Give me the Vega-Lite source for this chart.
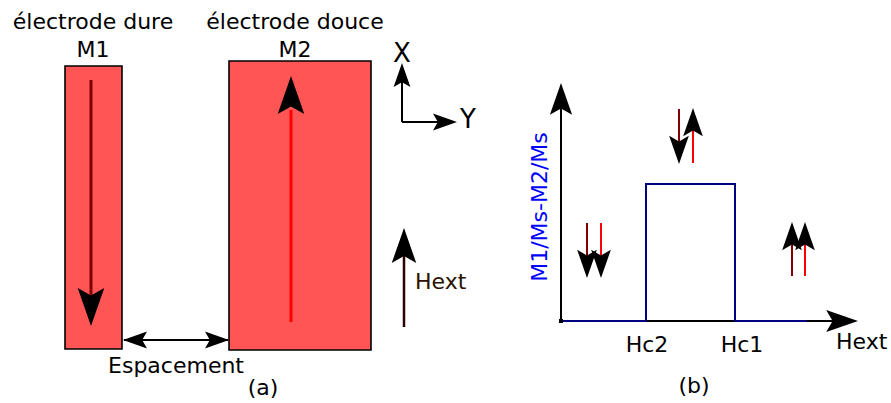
{
  "$schema": "https://vega.github.io/schema/vega-lite/v6.json",
  "width": 891,
  "height": 403,
  "padding": 0,
  "autosize": {"type": "fit", "contains": "padding"},
  "config": {"view": {"stroke": null}, "text": {"font": "DejaVu Sans"}},
  "resolve": {"scale": {"size": "independent", "color": "independent", "strokeWidth": "independent", "shape": "independent"}},
  "datasets": {
    "boxes": [
      {"name": "M1", "x": 65, "x2": 122, "y": 66, "y2": 349},
      {"name": "M2", "x": 229, "x2": 371, "y": 61, "y2": 350}
    ],
    "segments": [
      {"id": "M1", "x": 91, "y": 80, "x2": 91, "y2": 300, "tone": "hard", "weight": "thick"},
      {"id": "M2", "x": 291, "y": 322, "x2": 291, "y2": 110, "tone": "soft", "weight": "thick"},
      {"id": "espacement", "x": 124, "y": 340, "x2": 228, "y2": 340, "tone": "black", "weight": "thin"},
      {"id": "X", "x": 402, "y": 66, "x2": 402, "y2": 122, "tone": "black", "weight": "thin"},
      {"id": "Y", "x": 402, "y": 122, "x2": 452, "y2": 122, "tone": "black", "weight": "thin"},
      {"id": "Hext", "x": 404, "y": 327, "x2": 404, "y2": 245, "tone": "hext", "weight": "mid"},
      {"id": "axeY", "x": 561, "y": 321, "x2": 561, "y2": 95, "tone": "black", "weight": "thin"},
      {"id": "axeX", "x": 561, "y": 321, "x2": 845, "y2": 321, "tone": "black", "weight": "thin"},
      {"id": "milieu1", "x": 679, "y": 109, "x2": 679, "y2": 156, "tone": "hard", "weight": "thin"},
      {"id": "milieu2", "x": 693, "y": 163, "x2": 693, "y2": 118, "tone": "soft", "weight": "thin"},
      {"id": "gauche1", "x": 587, "y": 223, "x2": 587, "y2": 270, "tone": "hard", "weight": "thin"},
      {"id": "gauche2", "x": 601, "y": 223, "x2": 601, "y2": 270, "tone": "soft", "weight": "thin"},
      {"id": "droite1", "x": 792, "y": 276, "x2": 792, "y2": 230, "tone": "hard", "weight": "thin"},
      {"id": "droite2", "x": 805, "y": 276, "x2": 805, "y2": 230, "tone": "soft", "weight": "thin"}
    ],
    "heads": [
      {"id": "M1", "x": 91, "y": 326, "dir": "down", "kind": "big"},
      {"id": "M2", "x": 291, "y": 76, "dir": "up", "kind": "big"},
      {"id": "esp-g", "x": 123, "y": 340, "dir": "left", "kind": "tiny"},
      {"id": "esp-d", "x": 229, "y": 340, "dir": "right", "kind": "tiny"},
      {"id": "X", "x": 402, "y": 63, "dir": "up", "kind": "tiny"},
      {"id": "Y", "x": 457, "y": 122, "dir": "right", "kind": "tiny"},
      {"id": "Hext", "x": 404, "y": 228, "dir": "up", "kind": "hext"},
      {"id": "axeY", "x": 561, "y": 83, "dir": "up", "kind": "axis"},
      {"id": "axeX", "x": 858, "y": 321, "dir": "right", "kind": "axis"},
      {"id": "milieu1", "x": 679, "y": 164, "dir": "down", "kind": "small"},
      {"id": "milieu2", "x": 693, "y": 108, "dir": "up", "kind": "small"},
      {"id": "gauche1", "x": 587, "y": 278, "dir": "down", "kind": "small"},
      {"id": "gauche2", "x": 601, "y": 278, "dir": "down", "kind": "small"},
      {"id": "droite1", "x": 792, "y": 222, "dir": "up", "kind": "small"},
      {"id": "droite2", "x": 805, "y": 222, "dir": "up", "kind": "small"}
    ],
    "curve": [
      {"i": 0, "x": 561, "y": 321},
      {"i": 1, "x": 646, "y": 321},
      {"i": 2, "x": 646, "y": 184},
      {"i": 3, "x": 735, "y": 184},
      {"i": 4, "x": 735, "y": 321},
      {"i": 5, "x": 807, "y": 321}
    ],
    "origin": [{"x": 561, "y": 321}],
    "labels": [
      {"text": "électrode dure", "x": 93, "y": 29},
      {"text": "M1", "x": 93, "y": 57},
      {"text": "électrode douce", "x": 295, "y": 29},
      {"text": "M2", "x": 295, "y": 57},
      {"text": "Espacement", "x": 176, "y": 373},
      {"text": "(a)", "x": 263, "y": 395},
      {"text": "Hc2", "x": 647, "y": 352},
      {"text": "Hc1", "x": 742, "y": 352},
      {"text": "(b)", "x": 694, "y": 393}
    ],
    "axislabels": [
      {"text": "X", "x": 402, "y": 62},
      {"text": "Y", "x": 468, "y": 128}
    ],
    "leftlabels": [
      {"text": "Hext", "x": 415, "y": 289, "tone": "hext"},
      {"text": "Hext", "x": 836, "y": 349, "tone": "black"}
    ],
    "ylabel": [
      {"text": "M1/Ms-M2/Ms", "x": 547, "y": 207}
    ]
  },
  "layer": [
    {
      "data": {"name": "boxes"},
      "mark": {"type": "rect", "fill": "#ff5555", "stroke": "#000000", "strokeWidth": 1.6},
      "encoding": {
        "x": {"field": "x", "type": "quantitative", "scale": {"domain": [0, 891], "nice": false, "zero": false}, "axis": null},
        "x2": {"field": "x2"},
        "y": {"field": "y", "type": "quantitative", "scale": {"domain": [0, 403], "nice": false, "zero": false, "reverse": true}, "axis": null},
        "y2": {"field": "y2"}
      }
    },
    {
      "data": {"name": "segments"},
      "mark": {"type": "rule"},
      "encoding": {
        "x": {"field": "x", "type": "quantitative", "axis": null},
        "x2": {"field": "x2"},
        "y": {"field": "y", "type": "quantitative", "axis": null},
        "y2": {"field": "y2"},
        "color": {"field": "tone", "type": "nominal", "scale": {"domain": ["hard", "soft", "black", "hext"], "range": ["#800000", "#ff0000", "#000000", "#2b0000"]}, "legend": null},
        "strokeWidth": {"field": "weight", "type": "nominal", "scale": {"domain": ["thick", "mid", "thin"], "range": [3, 2, 1.5]}, "legend": null}
      }
    },
    {
      "data": {"name": "curve"},
      "mark": {"type": "line", "color": "#000080", "strokeWidth": 2},
      "encoding": {
        "x": {"field": "x", "type": "quantitative", "axis": null},
        "y": {"field": "y", "type": "quantitative", "axis": null},
        "order": {"field": "i", "type": "quantitative"}
      }
    },
    {
      "data": {"name": "origin"},
      "mark": {"type": "point", "shape": "square", "filled": true, "color": "#000000", "size": 16, "opacity": 1},
      "encoding": {
        "x": {"field": "x", "type": "quantitative", "axis": null},
        "y": {"field": "y", "type": "quantitative", "axis": null}
      }
    },
    {
      "data": {"name": "heads"},
      "mark": {"type": "point", "filled": true, "color": "#000000", "opacity": 1, "strokeWidth": 0},
      "encoding": {
        "x": {"field": "x", "type": "quantitative", "axis": null},
        "y": {"field": "y", "type": "quantitative", "axis": null},
        "shape": {"field": "dir", "type": "nominal", "scale": {"domain": ["up", "down", "right", "left"], "range": ["M0,0 L0.7,2 L0,1.6 L-0.7,2 Z", "M0,0 L0.7,-2 L0,-1.6 L-0.7,-2 Z", "M0,0 L-2,0.7 L-1.6,0 L-2,-0.7 Z", "M0,0 L2,0.7 L1.6,0 L2,-0.7 Z"]}, "legend": null},
        "size": {"field": "kind", "type": "nominal", "scale": {"domain": ["big", "hext", "axis", "small", "tiny"], "range": [1444, 576, 361, 196, 100]}, "legend": null}
      }
    },
    {
      "data": {"name": "labels"},
      "mark": {"type": "text", "align": "center", "baseline": "alphabetic", "font": "DejaVu Sans", "fontSize": 22, "color": "#000000"},
      "encoding": {
        "x": {"field": "x", "type": "quantitative", "axis": null},
        "y": {"field": "y", "type": "quantitative", "axis": null},
        "text": {"field": "text"}
      }
    },
    {
      "data": {"name": "axislabels"},
      "mark": {"type": "text", "align": "center", "baseline": "alphabetic", "font": "DejaVu Sans", "fontSize": 26, "color": "#000000"},
      "encoding": {
        "x": {"field": "x", "type": "quantitative", "axis": null},
        "y": {"field": "y", "type": "quantitative", "axis": null},
        "text": {"field": "text"}
      }
    },
    {
      "data": {"name": "leftlabels"},
      "mark": {"type": "text", "align": "left", "baseline": "alphabetic", "font": "DejaVu Sans", "fontSize": 22},
      "encoding": {
        "x": {"field": "x", "type": "quantitative", "axis": null},
        "y": {"field": "y", "type": "quantitative", "axis": null},
        "text": {"field": "text"},
        "color": {"field": "tone", "type": "nominal", "scale": {"domain": ["hext", "black"], "range": ["#2b1100", "#000000"]}, "legend": null}
      }
    },
    {
      "data": {"name": "ylabel"},
      "mark": {"type": "text", "align": "center", "baseline": "alphabetic", "font": "DejaVu Sans", "fontSize": 22, "angle": 270, "color": "#0000ff"},
      "encoding": {
        "x": {"field": "x", "type": "quantitative", "axis": null},
        "y": {"field": "y", "type": "quantitative", "axis": null},
        "text": {"field": "text"}
      }
    }
  ]
}
